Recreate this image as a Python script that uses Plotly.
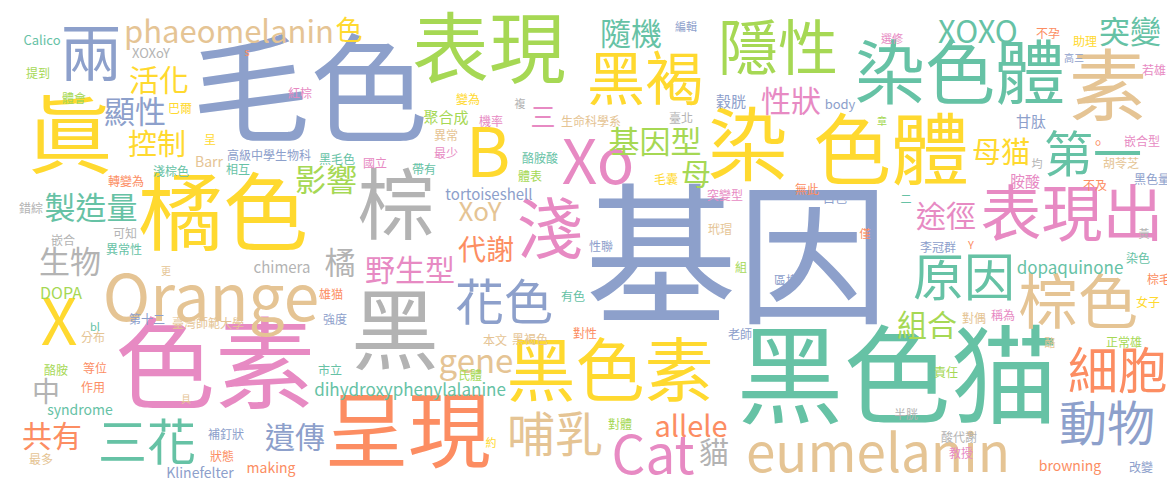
import plotly.graph_objects as go

# Set2 palette used by the word cloud
palette = {
    "G": "#66c2a5", "O": "#fc8d62", "B": "#8da0cb", "P": "#e78ac3",
    "L": "#a6d854", "Y": "#ffd92f", "T": "#e5c494", "S": "#b3b3b3",
}

words = [
    "基因", "毛色", "黑色猫", "色素", "橘色", "眞", "表現", "染", "色體", "黑",
    "棕", "素", "呈現", "染色體", "黑色素", "Xo", "淺", "表現出", "棕色", "黑褐",
    "隱性", "B", "原因", "細胞", "動物", "花色", "哺乳", "三花", "第一", "兩",
    "X", "Orange", "eumelanin", "Cat", "活化", "顯性", "控制", "影響", "製造量", "生物",
    "共有", "遺傳", "隨機", "基因型", "母猫", "途徑", "組合", "性狀", "野生型", "代謝",
    "橘", "中", "貓", "母", "XOXO", "突變", "phaeomelanin", "色", "gene", "allele",
    "XoY", "三", "dihydroxyphenylalanine", "dopaquinone", "DOPA", "tortoiseshell", "聚合成", "穀胱", "甘肽", "胺酸",
    "Calico", "XOXoY", "s", "提到", "體會", "紅棕", "巴爾", "呈", "Barr", "高級中學生物科",
    "黑毛色", "國立", "淺棕色", "相互", "轉變為", "錯綜", "嵌合", "可知", "異常性", "編輯",
    "變為", "複", "機率", "生命科學系", "臺北", "異常", "最少", "帶有", "酪胺酸", "體表",
    "毛囊", "突變型", "玳瑁", "性聯", "組", "區塊", "有色", "老師", "對性", "本文",
    "黑褐色", "氏體", "對體", "約", "選修", "不孕", "助理", "高三", "若雄", "body",
    "章", "均", "嵌合型", "胡苓芝", "黑色量", "不及", "無此", "白色", "二", "僅",
    "黃", "李冠群", "Y", "染色", "棕毛", "女子", "對偶", "稱為", "酪", "正常雄",
    "責任", "半胱", "酸代謝", "教授", "browning", "改變", "更", "chimera", "第十二", "臺灣師範大學",
    "雄猫", "強度", "bl", "分布", "酪胺", "等位", "市立", "作用", "具", "syndrome",
    "補釘狀", "最多", "狀態", "making", "Klinefelter", "。",
]

weights = [
    152, 118, 107, 100, 85, 85, 77, 80, 78, 88,
    78, 78, 83, 70, 69, 62, 66, 61, 60, 58,
    60, 68, 51, 50, 48, 49, 48, 49, 49, 62,
    64, 64, 53, 53, 30, 31, 29, 31, 31, 31,
    30, 30, 31, 31, 29, 30, 30, 30, 30, 28,
    31, 28, 30, 30, 31, 31, 31, 27, 33, 29,
    26, 25, 17, 17, 16, 15, 15, 15, 15, 15,
    13, 13, 11, 12, 12, 12, 12, 12, 14, 12,
    12, 12, 12, 12, 12, 12, 12, 12, 12, 11,
    12, 11, 12, 12, 12, 12, 12, 12, 12, 12,
    12, 12, 12, 12, 12, 12, 12, 12, 12, 12,
    12, 12, 12, 11, 11, 12, 12, 10, 12, 13,
    10, 11, 12, 12, 12, 12, 12, 12, 11, 11,
    11, 12, 11, 12, 12, 12, 12, 12, 11, 12,
    12, 12, 12, 12, 14, 12, 10, 15, 12, 12,
    12, 12, 11, 12, 12, 12, 12, 12, 10, 14,
    12, 12, 12, 14, 14, 16,
]

pos_x = [
    729, 302, 889, 207, 215, 62, 481, 740, 883, 387,
    388, 1100, 400, 952, 602, 590, 542, 1064, 1070, 637,
    770, 480, 956, 1110, 1099, 496, 547, 139, 1085, 83,
    51, 203, 870, 645, 151, 127, 149, 318, 83, 62,
    44, 287, 623, 647, 993, 938, 919, 783, 402, 478,
    332, 38, 706, 688, 970, 1122, 221, 341, 468, 683,
    472, 535, 402, 1062, 53, 481, 438, 723, 1023, 1017,
    34, 143, 239, 30, 66, 292, 172, 202, 201, 261,
    329, 367, 163, 230, 118, 23, 55, 117, 116, 678,
    460, 512, 483, 583, 673, 438, 438, 416, 532, 522,
    658, 717, 712, 593, 733, 778, 565, 732, 577, 487,
    522, 462, 612, 483, 884, 1040, 1077, 1066, 1146, 832,
    874, 1029, 1134, 1113, 1144, 1087, 799, 827, 898, 857,
    1136, 930, 963, 1130, 1151, 1140, 966, 995, 1042, 1116,
    938, 898, 951, 953, 1062, 1133, 158, 274, 139, 200,
    323, 327, 87, 85, 48, 87, 322, 85, 178, 72,
    218, 33, 214, 263, 192, 1090,
]

pos_y = [
    266, 95, 380, 368, 215, 138, 50, 146, 151, 332,
    206, 87, 432, 73, 371, 160, 228, 213, 301, 77,
    47, 152, 275, 368, 421, 300, 432, 440, 152, 52,
    321, 297, 451, 453, 75, 107, 140, 175, 203, 257,
    431, 432, 29, 137, 148, 211, 320, 96, 265, 245,
    258, 387, 447, 169, 27, 27, 27, 25, 357, 422,
    206, 112, 384, 262, 287, 188, 111, 95, 115, 175,
    34, 47, 45, 67, 92, 87, 102, 133, 155, 149,
    153, 157, 165, 163, 175, 202, 234, 227, 243, 20,
    93, 97, 115, 115, 112, 129, 147, 163, 152, 170,
    173, 189, 223, 240, 261, 274, 290, 328, 327, 334,
    333, 369, 418, 436, 32, 27, 35, 51, 64, 98,
    114, 157, 135, 157, 173, 179, 183, 192, 192, 227,
    227, 241, 238, 252, 273, 296, 312, 309, 336, 336,
    366, 408, 431, 447, 459, 461, 264, 261, 313, 317,
    288, 313, 320, 331, 364, 362, 364, 381, 392, 403,
    428, 453, 450, 461, 466, 137,
]

groups = [
    "B", "B", "G", "P", "Y", "Y", "L", "Y", "Y", "S",
    "S", "T", "O", "G", "Y", "P", "P", "P", "T", "Y",
    "L", "Y", "G", "O", "B", "B", "T", "G", "G", "B",
    "Y", "T", "T", "P", "Y", "B", "Y", "L", "G", "S",
    "O", "B", "G", "L", "Y", "P", "L", "P", "P", "O",
    "S", "S", "S", "L", "G", "G", "T", "Y", "T", "O",
    "T", "P", "G", "G", "L", "B", "L", "B", "B", "P",
    "G", "S", "O", "L", "L", "P", "Y", "Y", "T", "B",
    "G", "P", "G", "G", "O", "S", "S", "S", "G", "B",
    "Y", "S", "P", "T", "S", "T", "P", "G", "G", "L",
    "Y", "P", "T", "B", "L", "B", "G", "B", "O", "T",
    "T", "L", "L", "Y", "P", "O", "Y", "B", "P", "B",
    "L", "S", "P", "T", "B", "O", "O", "B", "G", "O",
    "S", "B", "O", "G", "O", "Y", "T", "P", "T", "L",
    "L", "S", "S", "P", "O", "B", "T", "S", "B", "T",
    "O", "B", "G", "T", "L", "O", "G", "O", "T", "G",
    "B", "T", "O", "O", "B", "O",
]

fig = go.Figure()
fig.add_trace(go.Scatter(
    x=pos_x,
    y=pos_y,
    text=words,
    mode="text",
    textposition="middle center",
    textfont=dict(
        family="Noto Sans CJK TC",
        size=weights,
        color=[palette[g] for g in groups],
    ),
    hoverinfo="skip",
))

fig.update_layout(
    width=1175,
    height=482,
    margin=dict(l=0, r=0, t=0, b=0),
    paper_bgcolor="white",
    plot_bgcolor="white",
    showlegend=False,
    xaxis=dict(range=[0, 1175], visible=False, fixedrange=True),
    yaxis=dict(range=[482, 0], visible=False, fixedrange=True),
)

fig.write_html("out.html")
